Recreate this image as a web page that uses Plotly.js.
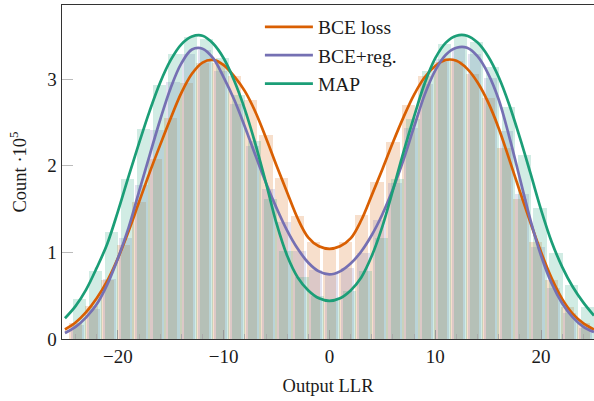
<!DOCTYPE html>
<html>
<head>
<meta charset="utf-8">
<script src="https://cdn.plot.ly/plotly-3.0.1.min.js"></script>
<style>
html,body{margin:0;padding:0;background:#fff;}
#chart{width:594px;height:401px;}
</style>
</head>
<body>
<div id="chart"></div>
<script>
// ---- data (counts in units of 1e5) ----
const seriesNames = ["BCE loss", "BCE+reg.", "MAP"];

const bceBins = [-24,-22.5,-21,-19.5,-18,-16.5,-15,-13.5,-12,-10.5,-9,-7.5,-6,-4.5,-3,-1.5,0,1.5,3,4.5,6,7.5,9,10.5,12,13.5,15,16.5,18,19.5,21,22.5,24];
const bceCounts = [0.19,0.38,0.68,1.08,1.58,2.08,2.55,2.95,3.19,3.19,3.03,2.76,2.35,1.86,1.42,1.12,1.03,1.12,1.43,1.81,2.27,2.70,3.03,3.20,3.21,3.06,2.78,2.20,1.62,1.12,0.68,0.37,0.18];

const regBins = [-23.8,-22.3,-20.8,-19.3,-17.8,-16.3,-14.8,-13.3,-11.8,-10.3,-8.8,-7.3,-5.8,-4.3,-2.8,-1.3,0.2,1.7,3.2,4.7,6.2,7.7,9.2,10.7,12.2,13.7,15.2,16.7,18.2,19.7,21.2,22.7,24.2];
const regCounts = [0.16,0.35,0.69,1.17,1.78,2.41,2.96,3.29,3.33,3.09,2.71,2.23,1.73,1.35,1.01,0.80,0.75,0.82,0.99,1.37,1.80,2.43,2.94,3.23,3.36,3.29,3.01,2.40,1.67,1.06,0.59,0.30,0.13];

const mapBins = [-23.6,-22.1,-20.6,-19.1,-17.6,-16.1,-14.6,-13.1,-11.6,-10.1,-8.6,-7.1,-5.6,-4.1,-2.6,-1.1,0.4,1.9,3.4,4.9,6.4,7.9,9.4,10.9,12.4,13.9,15.4,16.9,18.4,19.9,21.4,22.9,24.4];
const mapCounts = [0.46,0.79,1.24,1.85,2.42,2.93,3.29,3.49,3.46,3.24,2.82,2.29,1.62,1.02,0.72,0.50,0.45,0.55,0.78,1.17,1.85,2.54,3.09,3.40,3.50,3.43,3.14,2.68,2.12,1.51,0.99,0.62,0.37];

const llrGrid = [-25,-24,-23,-22,-21,-20,-19,-18,-17,-16,-15,-14,-13,-12,-11,-10,-9,-8,-7,-6,-5,-4,-3,-2,-1,0,1,2,3,4,5,6,7,8,9,10,11,12,13,14,15,16,17,18,19,20,21,22,23,24,25];
const bceCurve = [0.11,0.19,0.31,0.47,0.67,0.93,1.24,1.58,1.92,2.24,2.55,2.84,3.06,3.19,3.22,3.16,3.03,2.86,2.62,2.32,2.00,1.69,1.39,1.17,1.07,1.04,1.07,1.16,1.37,1.66,1.96,2.27,2.56,2.82,3.02,3.15,3.22,3.21,3.12,2.96,2.73,2.43,2.07,1.70,1.34,1.00,0.70,0.46,0.29,0.18,0.11];
const regCurve = [0.07,0.14,0.25,0.40,0.63,0.93,1.28,1.70,2.12,2.53,2.90,3.18,3.34,3.35,3.24,3.02,2.76,2.45,2.12,1.80,1.51,1.25,1.04,0.88,0.78,0.745,0.78,0.87,1.01,1.20,1.44,1.73,2.07,2.45,2.82,3.10,3.28,3.36,3.36,3.26,3.06,2.76,2.33,1.85,1.37,0.96,0.64,0.41,0.25,0.14,0.08];
const mapCurve = [0.24,0.38,0.57,0.82,1.10,1.47,1.87,2.26,2.63,2.96,3.22,3.40,3.49,3.50,3.41,3.24,2.98,2.65,2.25,1.80,1.33,0.96,0.71,0.56,0.47,0.44,0.47,0.56,0.71,0.96,1.30,1.72,2.16,2.57,2.95,3.24,3.42,3.50,3.50,3.42,3.26,3.02,2.70,2.32,1.91,1.49,1.12,0.83,0.60,0.42,0.27];

const xTicks = [-20,-10,0,10,20];
const yTicks = [0,1,2,3];

// ---- styles ----
const colors = ["#d95f02", "#7570b3", "#1b9e77"];
const barFill = ["rgba(217,95,2,0.2)", "rgba(117,112,179,0.2)", "rgba(27,158,119,0.2)"];
const FONT = "Liberation Serif, Times New Roman, serif";
const barWidth = 1.25;

function barTrace(x, y, i) {
  return {type: "bar", x: x, y: y, width: barWidth,
    marker: {color: barFill[i], line: {width: 0}},
    showlegend: false, hoverinfo: "skip"};
}
function lineTrace(x, y, i) {
  return {type: "scatter", mode: "lines", x: x, y: y, name: seriesNames[i],
    line: {color: colors[i], width: 2.7, shape: "spline", smoothing: 1}};
}

const traces = [
  barTrace(bceBins, bceCounts, 0),
  barTrace(regBins, regCounts, 1),
  barTrace(mapBins, mapCounts, 2),
  lineTrace(llrGrid, bceCurve, 0),
  lineTrace(llrGrid, regCurve, 1),
  lineTrace(llrGrid, mapCurve, 2)
];

const layout = {
  width: 594, height: 401,
  margin: {l: 62, r: 0, t: 5, b: 62},
  paper_bgcolor: "#ffffff", plot_bgcolor: "#ffffff",
  barmode: "overlay", bargap: 0,
  font: {family: FONT, size: 18, color: "#1a1a1a"},
  showlegend: true,
  legend: {x: 0.372, y: 0.992, xanchor: "left", yanchor: "top",
    bgcolor: "rgba(255,255,255,0)", borderwidth: 0,
    font: {family: FONT, size: 19.5, color: "#1a1a1a"},
    itemwidth: 48, tracegroupgap: 0},
  xaxis: {
    range: [-25.28, 25.0], tickvals: xTicks, ticks: "inside", ticklen: 9,
    tickcolor: "#999999", tickwidth: 1,
    minor: {dtick: 2, tick0: 0, ticks: "inside", ticklen: 5, tickcolor: "#aaaaaa", tickwidth: 1},
    showline: true, mirror: true, linecolor: "#333333", linewidth: 1.4,
    showgrid: false, zeroline: false,
    tickfont: {family: FONT, size: 19, color: "#1a1a1a"},
    title: {text: "Output LLR", font: {family: FONT, size: 18.5, color: "#1a1a1a"}, standoff: 13}
  },
  yaxis: {
    range: [0, 3.854], tickvals: yTicks, ticks: "inside", ticklen: 11,
    tickcolor: "#bbbbbb", tickwidth: 1,
    showline: true, mirror: false, linecolor: "#333333", linewidth: 1.4,
    showgrid: false, zeroline: false,
    tickfont: {family: FONT, size: 19, color: "#1a1a1a"},
    title: {text: "Count ·10<sup>5</sup>", font: {family: FONT, size: 18.5, color: "#1a1a1a"}, standoff: 16}
  }
};

Plotly.newPlot("chart", traces, layout, {displayModeBar: false, staticPlot: true});
</script>
</body>
</html>
